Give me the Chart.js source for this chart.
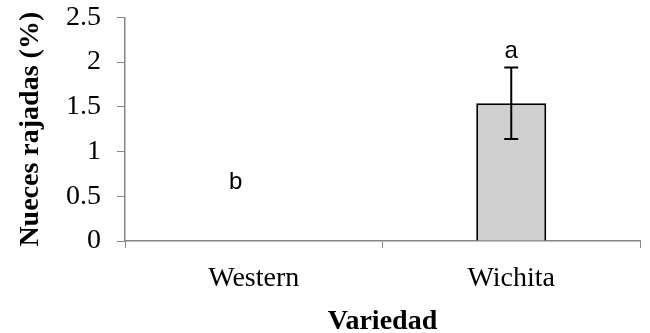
<!DOCTYPE html>
<html>
<head>
<meta charset="utf-8">
<script src="https://cdn.jsdelivr.net/npm/chart.js@4"></script>
<style>
  html, body { margin: 0; padding: 0; background: #fff; }
  #wrap { width: 650px; height: 333px; }
</style>
</head>
<body>
<div id="wrap"><canvas id="graphCanvas" width="650" height="333"></canvas></div>
<script>
// データ
const variedades = ["Western", "Wichita"];
const nuecesRajadas = [0, 1.54];
const errorEstandar = [0, 0.4];
const letras = ["b", "a"];
const letrasAltura = [0.66, 2.12];
const yTicks = [0, 0.5, 1, 1.5, 2, 2.5];

const AXIS_COLOR = "#868686";
const SERIF = "'Liberation Serif', 'Times New Roman', serif";

/** エラーバーと有意差の文字を描くプラグイン */
const extrasPlugin = {
  id: "extras",
  afterDatasetsDraw(chart, args, opts) {
    const { ctx } = chart;
    const xs = chart.scales.x;
    const ys = chart.scales.y;
    ctx.save();
    ctx.strokeStyle = "#000";
    ctx.lineWidth = 2;
    nuecesRajadas.forEach((v, i) => {
      const e = errorEstandar[i];
      if (!e) return;
      const x = xs.getPixelForValue(i);
      const yTop = ys.getPixelForValue(v + e);
      const yBot = ys.getPixelForValue(v - e);
      ctx.beginPath();
      ctx.moveTo(x, yTop);
      ctx.lineTo(x, yBot);
      ctx.moveTo(x - 7, yTop);
      ctx.lineTo(x + 7, yTop);
      ctx.moveTo(x - 7, yBot);
      ctx.lineTo(x + 7, yBot);
      ctx.stroke();
    });
    ctx.fillStyle = "#000";
    ctx.font = "24px 'Liberation Sans', Arial, sans-serif";
    ctx.textAlign = "center";
    ctx.textBaseline = "middle";
    letras.forEach((t, i) => {
      const x = xs.getPixelForValue(i) + (opts.dx[i] || 0);
      ctx.fillText(t, x, ys.getPixelForValue(letrasAltura[i]));
    });
    ctx.restore();
  },
};

const ctx = document.getElementById("graphCanvas").getContext("2d");
new Chart(ctx, {
  type: "bar",
  data: {
    labels: variedades,
    datasets: [
      {
        data: nuecesRajadas,
        backgroundColor: "#d0d0d0",
        borderColor: "#000",
        borderWidth: (c) => (c.raw ? 2 : 0),
        borderSkipped: "start",
        categoryPercentage: 1,
        barPercentage: 0.272,
      },
    ],
  },
  options: {
    responsive: false,
    animation: false,
    layout: { padding: { top: 0, right: 10, bottom: 0, left: 0 } },
    plugins: {
      legend: { display: false },
      tooltip: { enabled: false },
      extras: { dx: [-18, 0] },
    },
    scales: {
      x: {
        grid: {
          offset: true,
          drawOnChartArea: false,
          tickLength: 7,
          tickColor: AXIS_COLOR,
        },
        border: { color: AXIS_COLOR, width: 1.5 },
        ticks: {
          color: "#000",
          font: { family: SERIF, size: 28 },
          padding: 14,
        },
        title: {
          display: true,
          text: "Variedad",
          color: "#000",
          font: { family: SERIF, size: 28, weight: "bold", lineHeight: 0.8 },
          padding: { top: 14, bottom: 0 },
        },
        afterFit: (s) => { s.height = 92; },
      },
      y: {
        min: 0,
        max: 2.5,
        afterBuildTicks: (s) => { s.ticks = yTicks.map((v) => ({ value: v })); },
        grid: {
          drawOnChartArea: false,
          tickLength: 8,
          tickColor: AXIS_COLOR,
        },
        border: { color: AXIS_COLOR, width: 1.5 },
        ticks: {
          color: "#000",
          font: { family: SERIF, size: 28, lineHeight: 0.1 },
          padding: 16,
          callback: (v) => String(v),
        },
        title: {
          display: true,
          text: "Nueces rajadas (%)",
          color: "#000",
          font: { family: SERIF, size: 28, weight: "bold" },
          padding: { top: 14, bottom: 0 },
        },
        afterFit: (s) => { s.width = 125; },
      },
    },
  },
  plugins: [extrasPlugin],
});
</script>
</body>
</html>
